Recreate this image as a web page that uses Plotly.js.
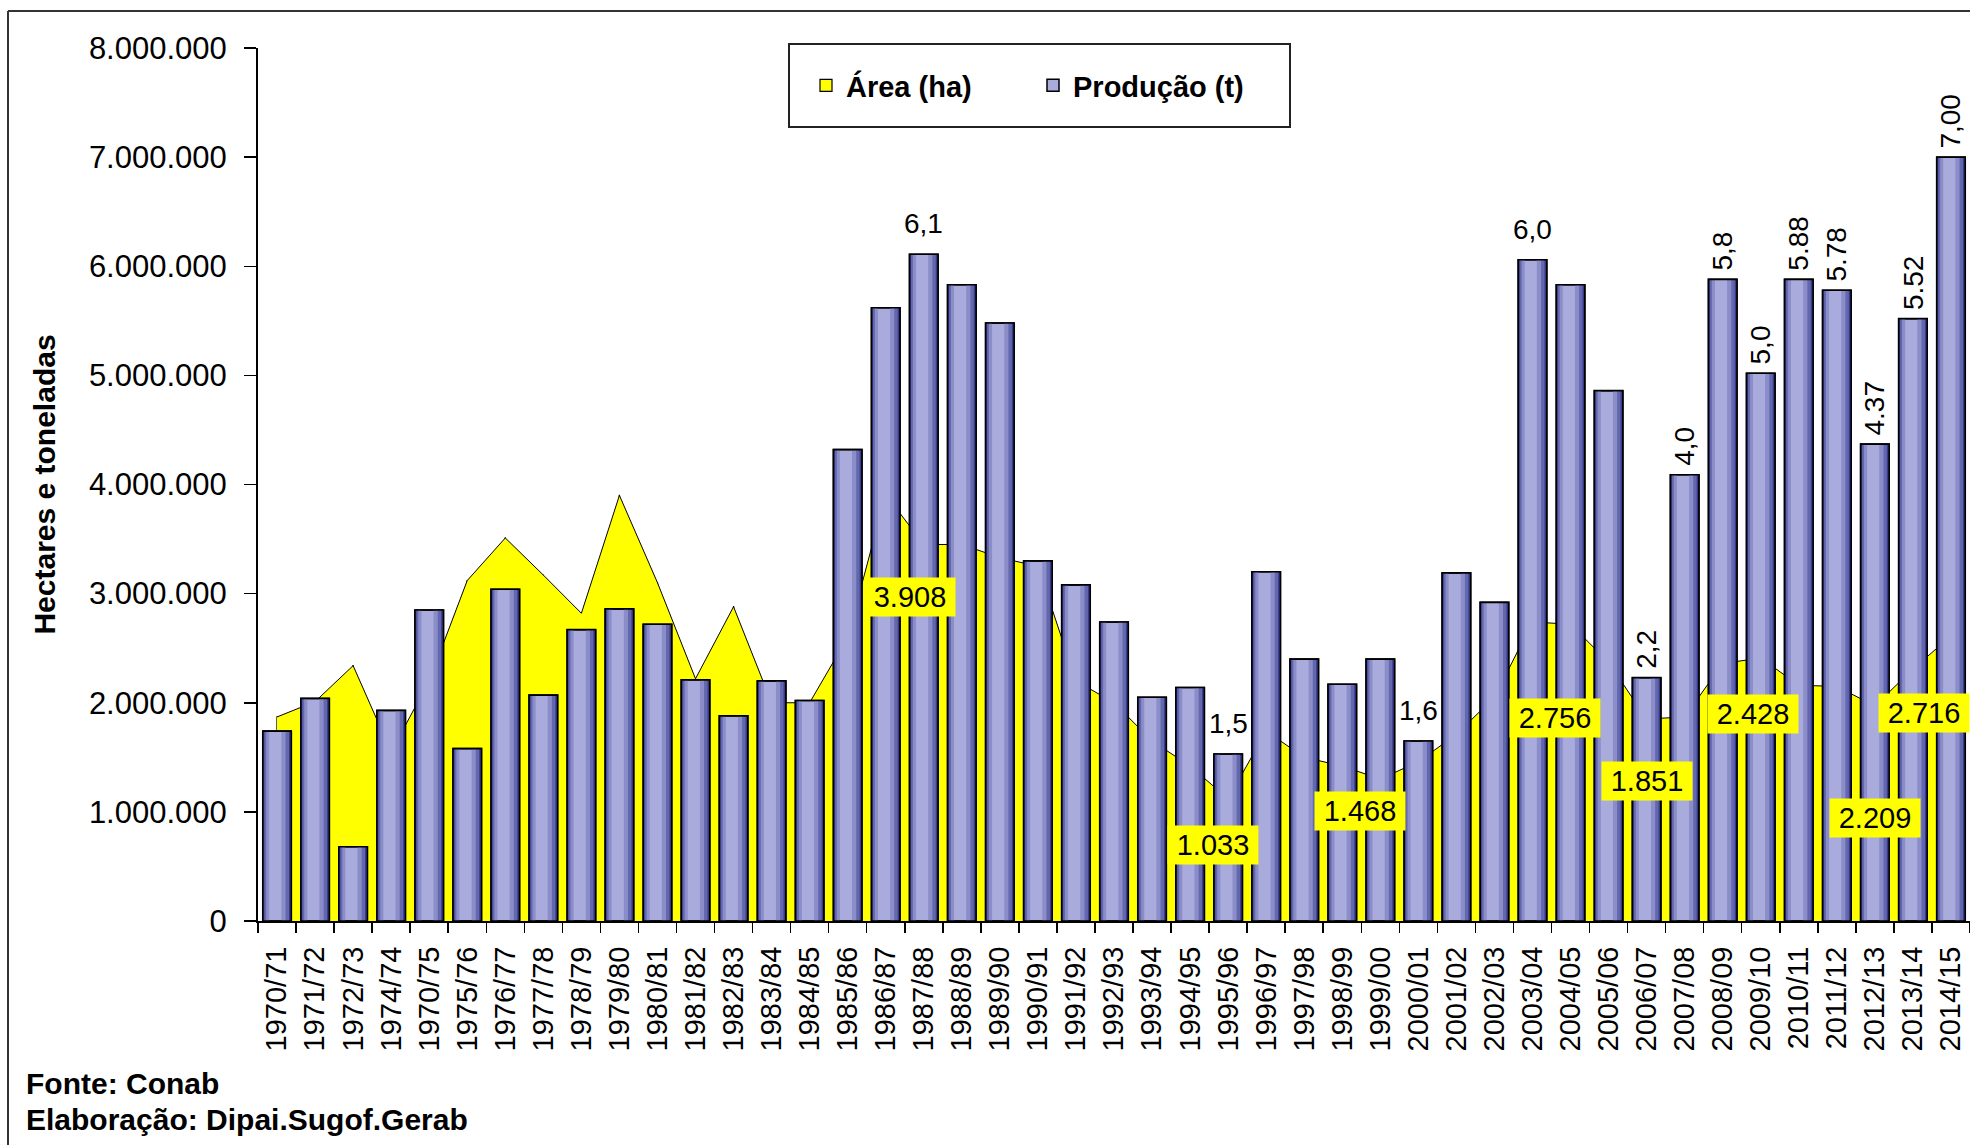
<!DOCTYPE html>
<html><head><meta charset="utf-8">
<script src="https://cdn.plot.ly/plotly-3.0.1.min.js"></script>
<style>html,body{margin:0;padding:0;background:#fff;overflow:hidden}#chart{width:1970px;height:1145px}</style>
</head><body><div id="chart"></div>
<script>
// ---------- data ----------
const seasons = ['1970/71','1971/72','1972/73','1974/74','1970/75','1975/76','1976/77','1977/78','1978/79','1979/80','1980/81','1981/82','1982/83','1983/84','1984/85','1985/86','1986/87','1987/88','1988/89','1989/90','1990/91','1991/92','1992/93','1993/94','1994/95','1995/96','1996/97','1997/98','1998/99','1999/00','2000/01','2001/02','2002/03','2003/04','2004/05','2005/06','2006/07','2007/08','2008/09','2009/10','2010/11','2011/12','2012/13','2013/14','2014/15'];
const areaHa = [1870000,2010000,2340000,1550000,2200000,3120000,3510000,3170000,2820000,3900000,3100000,2220000,2880000,2000000,2000000,2600000,3908000,3450000,3450000,3330000,3250000,2200000,2000000,1650000,1420000,1120000,1740000,1500000,1420000,1300000,1460000,1710000,2050000,2740000,2720000,2370000,1851000,1870000,2360000,2410000,2160000,2150000,1970000,2310000,2610000];
const producaoT = [1740000,2040000,680000,1930000,2850000,1580000,3040000,2070000,2670000,2860000,2720000,2210000,1880000,2200000,2020000,4320000,5620000,6110000,5830000,5480000,3300000,3080000,2740000,2050000,2140000,1530000,3200000,2400000,2170000,2400000,1650000,3190000,2920000,6060000,5830000,4860000,2230000,4090000,5880000,5020000,5880000,5780000,4370000,5520000,7000000];

const prodLabelSeasons = ['1987/88','1995/96','2000/01','2003/04','2006/07','2007/08','2008/09','2009/10','2010/11','2011/12','2012/13','2013/14','2014/15'];
const prodLabelTexts   = ['6,1','1,5','1,6','6,0','2,2','4,0','5,8','5,0','5.88','5.78','4.37','5.52','7,00'];
const prodLabelVertical= [false,false,false,false,true,true,true,true,true,true,true,true,true];

const areaLabelTexts = ['3.908','1.033','1.468','2.756','1.851','2.428','2.209','2.716'];
// placement of the yellow label boxes (category index, axis value)
const areaLabelAtX = [16.63,24.6,28.47,33.59,36.0,38.8,42.0,43.29];
const areaLabelAtY = [2970000,700000,1005000,1860000,1280000,1900000,940000,1910000];

const footer = ['Fonte: Conab','Elaboração: Dipai.Sugof.Gerab'];

// ---------- styles ----------
const FONT = '"Liberation Sans", Arial, sans-serif';
const BAR_W = 0.75;
const barBase = '#a8abdb';
const stripLayers = [ // side, width, color
  ['L',0.17,'#8a8dc8'],['L',0.09,'#6367ae'],['L',0.04,'#383b8c'],
  ['R',0.26,'#8a8dc8'],['R',0.15,'#6367ae'],['R',0.06,'#383b8c']
];

const traces = [];
// legend swatch for the area series (hair-thin bars hidden behind the area fill)
traces.push({
  type:'bar', x:seasons, y:areaHa, name:'<b>Área (ha)</b>', width:0.002,
  marker:{color:'#ffff00', line:{color:'#000',width:1.2}},
  xaxis:'x', yaxis:'y', hoverinfo:'skip'
});
traces.push({
  type:'scatter', x:seasons, y:areaHa, name:'Área (ha)', mode:'lines', showlegend:false,
  fill:'tozeroy', fillcolor:'#ffff00', line:{color:'#000',width:1},
  xaxis:'x', yaxis:'y', hoverinfo:'skip'
});
traces.push({
  type:'bar', x:seasons, y:producaoT, name:'<b>Produção (t)</b>', width:BAR_W,
  marker:{color:barBase, line:{color:'#000',width:1.5}},
  xaxis:'x2', yaxis:'y2', hoverinfo:'skip'
});
stripLayers.forEach(([side,w,col])=>{
  traces.push({
    type:'bar', x:seasons, y:producaoT, width:w,
    offset: side==='L' ? -BAR_W/2 : BAR_W/2 - w,
    marker:{color:col, line:{width:0}}, showlegend:false,
    xaxis:'x2', yaxis:'y2', hoverinfo:'skip'
  });
});
traces.push({
  type:'bar', x:seasons, y:producaoT, width:BAR_W, showlegend:false,
  marker:{color:'rgba(0,0,0,0)', line:{color:'#000',width:1.6}},
  xaxis:'x2', yaxis:'y2', hoverinfo:'skip'
});

// ---------- annotations ----------
const annotations = [];
prodLabelSeasons.forEach((s,k)=>{
  const i = seasons.indexOf(s);
  const vert = prodLabelVertical[k];
  annotations.push({
    xref:'x', yref:'y', x:i, y:producaoT[i], text:prodLabelTexts[k],
    showarrow:false, xanchor:'center', yanchor:'bottom',
    textangle: vert ? -90 : 0, yshift: vert ? 7 : 13,
    font:{family:FONT,size:28,color:'#000'}
  });
});
areaLabelTexts.forEach((t,k)=>{
  annotations.push({
    xref:'x', yref:'y', x:areaLabelAtX[k], y:areaLabelAtY[k], text:t,
    showarrow:false, xanchor:'center', yanchor:'middle',
    bgcolor:'#ffff00', borderpad:3, width:84,
    font:{family:FONT,size:29,color:'#000'}
  });
});
const PL = 258, PW = 1712, PB = 921, PH = 873;
const px = v => (v-PL)/PW, py = v => (PB-v)/PH;
annotations.push({xref:'paper',yref:'paper',x:px(24),y:py(1083),xanchor:'left',yanchor:'middle',showarrow:false,
  text:footer[0],font:{family:FONT,size:30,color:'#000',weight:'bold'}});
annotations.push({xref:'paper',yref:'paper',x:px(24),y:py(1119),xanchor:'left',yanchor:'middle',showarrow:false,
  text:footer[1],font:{family:FONT,size:30,color:'#000',weight:'bold'}});

const shapes = [
  {type:'line',xref:'paper',yref:'paper',x0:px(8),x1:px(1975),y0:py(11),y1:py(11),line:{color:'#333',width:2}},
  {type:'line',xref:'paper',yref:'paper',x0:px(8),x1:px(8),y0:py(11),y1:py(1150),line:{color:'#333',width:2}},
  {type:'rect',xref:'paper',yref:'paper',x0:px(789),x1:px(1290),y0:py(44),y1:py(127),line:{color:'#222',width:2},fillcolor:'rgba(0,0,0,0)'}
];

const layout = {
  width:1970, height:1145,
  margin:{l:PL, r:0, t:48, b:224, pad:0},
  paper_bgcolor:'#fff', plot_bgcolor:'rgba(0,0,0,0)',
  separators:',.',
  barmode:'overlay',
  font:{family:FONT, color:'#000'},
  showlegend:true,
  legend:{orientation:'h', x:px(806), y:py(85.5), xanchor:'left', yanchor:'middle',
    font:{family:FONT,size:29,color:'#000'}, bgcolor:'rgba(0,0,0,0)', borderwidth:0,
    entrywidth:182, traceorder:'normal'},
  xaxis:{type:'category', categoryorder:'array', categoryarray:seasons, range:[-0.5,44.5],
    showline:true, linecolor:'#000', linewidth:2, ticks:'outside', ticklen:10, tickwidth:1.5, tickcolor:'#000',
    tickson:'boundaries', tickangle:-90, tickfont:{family:FONT,size:29,color:'#000'},
    ticklabelstandoff:12, showgrid:false, zeroline:false, fixedrange:true, automargin:false},
  yaxis:{range:[0,8000000], tick0:0, dtick:1000000, tickformat:',d',
    showline:true, linecolor:'#000', linewidth:2, ticks:'outside', ticklen:12, tickwidth:1.5, tickcolor:'#000',
    tickfont:{family:FONT,size:31,color:'#000'}, ticklabelstandoff:11,
    showgrid:false, zeroline:false, fixedrange:true, automargin:false,
    title:{text:'Hectares e toneladas', font:{family:FONT,size:30,color:'#000',weight:'bold'}, standoff:24}},
  xaxis2:{type:'category', categoryorder:'array', categoryarray:seasons, range:[-0.5,44.5],
    overlaying:'x', visible:false, fixedrange:true},
  yaxis2:{range:[0,8000000], overlaying:'y', visible:false, fixedrange:true},
  shapes:shapes,
  annotations:annotations
};
Plotly.newPlot('chart', traces, layout, {staticPlot:true, displayModeBar:false});
</script></body></html>
